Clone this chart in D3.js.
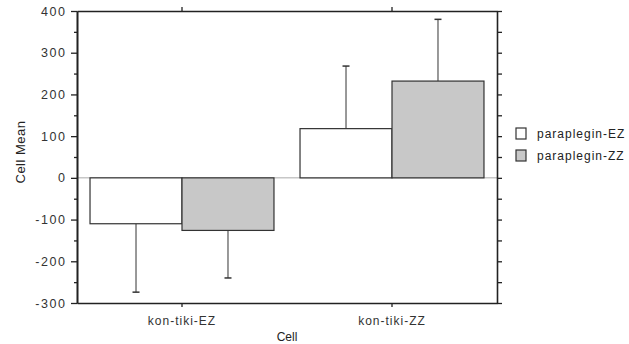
<!DOCTYPE html>
<html>
<head>
<meta charset="utf-8">
<script src="https://cdn.jsdelivr.net/npm/d3@7"></script>
<style>
  body { margin: 0; background: #fff; }
  svg { font-family: "Liberation Sans", Arial, sans-serif; }
  .tick text { fill: #333; }
</style>
</head>
<body>
<svg width="629" height="344"></svg>
<script>
// data
var cells = ['kon-tiki-EZ', 'kon-tiki-ZZ'];
var groups = ['paraplegin-EZ', 'paraplegin-ZZ'];
var meansEZ = [-110, 118];
var meansZZ = [-126, 232];
var errEnds_EZ = [-274, 268];
var errEnds_ZZ = [-240, 380];
var yTicks = [-300, -200, -100, 0, 100, 200, 300, 400];

var colors = ['#ffffff', '#c8c8c8'];

// plot frame (note: "top" is reserved on window)
var plotLeft = 77, plotRight = 497, plotTop = 11, plotBottom = 303;

var svg = d3.select('svg');

var x = d3.scaleBand()
          .domain(cells)
          .range([plotLeft, plotRight])
          .paddingInner(0.124)
          .paddingOuter(0.062);

var xSub = d3.scaleBand()
             .domain(groups)
             .range([0, x.bandwidth()]);

var y = d3.scaleLinear()
          .domain([-300, 400])
          .range([plotBottom, plotTop]);

var rows = [];
cells.forEach(function(c, i){
  rows.push({cell: c, group: groups[0], v: meansEZ[i], e: errEnds_EZ[i]});
  rows.push({cell: c, group: groups[1], v: meansZZ[i], e: errEnds_ZZ[i]});
});

// zero line
svg.append('line')
   .attr('x1', plotLeft).attr('x2', plotRight)
   .attr('y1', y(0)).attr('y2', y(0))
   .attr('stroke', '#aaa')
   .attr('stroke-width', 1);

// error bars (one side only, away from zero)
var eb = svg.selectAll('.err')
  .data(rows)
  .enter()
  .append('g')
  .classed('err', true);

eb.append('line')
  .attr('x1', d => x(d.cell) + xSub(d.group) + xSub.bandwidth() / 2)
  .attr('x2', d => x(d.cell) + xSub(d.group) + xSub.bandwidth() / 2)
  .attr('y1', d => y(d.v))
  .attr('y2', d => y(d.e))
  .attr('stroke', '#555')
  .attr('stroke-width', 1.2);

eb.append('line')
  .attr('x1', d => x(d.cell) + xSub(d.group) + xSub.bandwidth() / 2 - 3.5)
  .attr('x2', d => x(d.cell) + xSub(d.group) + xSub.bandwidth() / 2 + 3.5)
  .attr('y1', d => y(d.e))
  .attr('y2', d => y(d.e))
  .attr('stroke', '#333')
  .attr('stroke-width', 1.5);

// bars
svg.selectAll('.bar')
  .data(rows)
  .enter()
  .append('rect')
  .classed('bar', true)
  .attr('x', d => x(d.cell) + xSub(d.group))
  .attr('width', xSub.bandwidth())
  .attr('y', d => y(Math.max(0, d.v)))
  .attr('height', d => Math.abs(y(d.v) - y(0)))
  .attr('fill', d => colors[groups.indexOf(d.group)])
  .attr('stroke', '#333')
  .attr('stroke-width', 1.2);

// axes
var yMinor = d3.range(-250, 400, 100);
var y50 = d3.range(-300, 401, 50);

var yAxis = svg.append('g')
  .attr('transform', 'translate(' + plotLeft + ',0)')
  .call(d3.axisLeft(y).tickValues(yTicks).tickSize(6).tickPadding(6)
          .tickFormat(d => String(d)).tickSizeOuter(0));
svg.append('g')
  .attr('transform', 'translate(' + plotLeft + ',0)')
  .call(d3.axisLeft(y).tickValues(yMinor).tickSize(3).tickFormat('').tickSizeOuter(0));
svg.append('g')
  .attr('transform', 'translate(' + plotRight + ',0)')
  .call(d3.axisRight(y).tickValues(y50).tickSize(5).tickFormat('').tickSizeOuter(0));
var xAxis = svg.append('g')
  .attr('transform', 'translate(0,' + plotBottom + ')')
  .call(d3.axisBottom(x).tickSize(4).tickPadding(9).tickSizeOuter(0));
svg.append('g')
  .attr('transform', 'translate(0,' + plotTop + ')')
  .call(d3.axisTop(x).tickSize(4).tickFormat('').tickSizeOuter(0));

svg.selectAll('.domain').attr('stroke', '#222').attr('stroke-width', 1.6);
svg.selectAll('.tick line').attr('stroke', '#222').attr('stroke-width', 1.3);
svg.selectAll('.tick text')
   .style('font-size', '12px')
   .style('letter-spacing', '1px')
   .attr('font-family', null);
yAxis.selectAll('.tick text')
   .style('font-size', '12.5px')
   .style('letter-spacing', '1.6px')
   .attr('dx', '1.6px');

// titles
svg.append('text')
   .text('Cell')
   .attr('x', (plotLeft + plotRight) / 2)
   .attr('y', 341)
   .style('text-anchor', 'middle')
   .style('font-size', '12px')
   .style('fill', '#222');

svg.append('text')
   .text('Cell Mean')
   .attr('transform', 'translate(25,' + y(62) + ') rotate(-90)')
   .style('text-anchor', 'middle')
   .style('font-size', '13px')
   .style('letter-spacing', '0.5px')
   .style('fill', '#222');

// legend
var legend = svg.selectAll('.legend')
  .data(groups)
  .enter()
  .append('g')
  .classed('legend', true)
  .attr('transform', (d, i) => 'translate(516,' + (128 + i * 22) + ')');

legend.append('rect')
  .attr('width', 10)
  .attr('height', 11)
  .attr('fill', (d, i) => colors[i])
  .attr('stroke', '#333')
  .attr('stroke-width', 1.2);

legend.append('text')
  .text(d => d)
  .attr('x', 21)
  .attr('y', 10)
  .style('font-size', '12px')
  .style('letter-spacing', '1px')
  .style('fill', '#222');
</script>
</body>
</html>
